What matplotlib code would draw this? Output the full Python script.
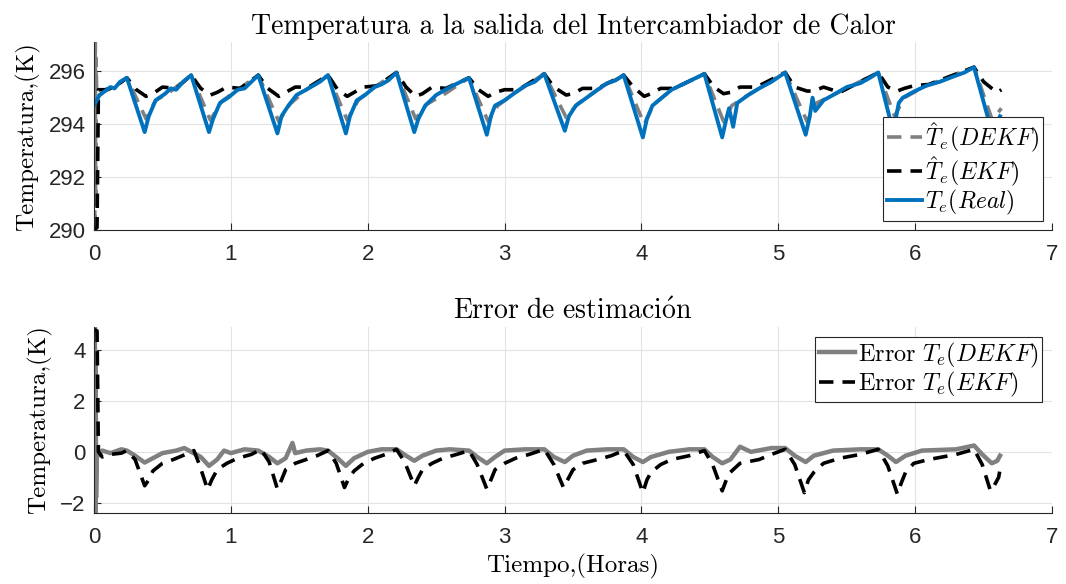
import numpy as np
import matplotlib
matplotlib.use("Agg")
import matplotlib.pyplot as plt

plt.rcParams['mathtext.fontset'] = 'cm'

# --- data (hours, kelvin) ---
real_t = [0.00, 0.04, 0.08, 0.12, 0.15, 0.19, 0.24,
          0.37, 0.40, 0.45, 0.52, 0.56, 0.60, 0.65, 0.71,
          0.84, 0.87, 0.92, 0.98, 1.05, 1.10, 1.15, 1.20,
          1.34, 1.37, 1.42, 1.48, 1.55, 1.60, 1.65, 1.71,
          1.84, 1.87, 1.92, 1.98, 2.05, 2.10, 2.15, 2.21,
          2.34, 2.37, 2.42, 2.50, 2.55, 2.62, 2.68, 2.74,
          2.87, 2.90, 2.93, 3.00, 3.08, 3.15, 3.22, 3.29,
          3.44, 3.47, 3.52, 3.60, 3.68, 3.75, 3.81, 3.87,
          4.01, 4.04, 4.08, 4.15, 4.22, 4.30, 4.38, 4.46,
          4.59, 4.62, 4.64, 4.67, 4.70, 4.78, 4.86, 4.95, 5.05,
          5.20, 5.23, 5.25, 5.27, 5.33, 5.40, 5.50, 5.60, 5.67, 5.73,
          5.84, 5.88, 5.91, 5.98, 6.08, 6.18, 6.28, 6.36, 6.43,
          6.55, 6.60, 6.62]
real_v = [294.70, 295.10, 295.25, 295.40, 295.35, 295.60, 295.75,
          293.70, 294.30, 294.90, 295.15, 295.35, 295.30, 295.60, 295.85,
          293.70, 294.20, 294.80, 295.00, 295.30, 295.35, 295.60, 295.85,
          293.65, 294.30, 294.70, 295.10, 295.30, 295.45, 295.60, 295.85,
          293.65, 294.30, 294.90, 295.10, 295.40, 295.50, 295.65, 295.95,
          293.70, 294.20, 294.70, 295.10, 295.25, 295.45, 295.60, 295.75,
          293.60, 294.30, 294.70, 294.90, 295.20, 295.45, 295.60, 295.90,
          293.75, 294.30, 294.70, 295.00, 295.30, 295.55, 295.65, 295.85,
          293.50, 294.20, 294.70, 295.00, 295.30, 295.50, 295.70, 295.90,
          293.50, 294.20, 294.60, 293.90, 294.80, 295.10, 295.35, 295.60, 295.95,
          293.60, 294.30, 295.00, 294.50, 294.90, 295.10, 295.40, 295.55, 295.75, 295.95,
          293.70, 294.80, 295.00, 295.20, 295.45, 295.60, 295.80, 295.95, 296.15,
          293.90, 294.10, 294.30]

dekf_t = [0.000, 0.003, 0.006, 0.009, 0.012, 0.015, 0.020, 0.08, 0.15, 0.24,
          0.38, 0.45, 0.55, 0.71,
          0.85, 0.93, 1.05, 1.20,
          1.35, 1.43, 1.55, 1.71,
          1.85, 1.93, 2.05, 2.21,
          2.35, 2.43, 2.55, 2.74,
          2.88, 2.95, 3.08, 3.29,
          3.45, 3.53, 3.68, 3.87,
          4.02, 4.09, 4.22, 4.46,
          4.60, 4.66, 4.78, 5.05,
          5.21, 5.28, 5.40, 5.73,
          5.85, 5.92, 6.08, 6.43,
          6.56, 6.60, 6.63]
dekf_v = [290.0, 299.0, 289.5, 298.5, 291.0, 296.5, 295.0, 295.25, 295.40, 295.75,
          294.20, 294.90, 295.20, 295.85,
          294.15, 294.85, 295.30, 295.85,
          294.10, 294.75, 295.30, 295.85,
          294.15, 294.90, 295.40, 295.95,
          294.20, 294.75, 295.10, 295.75,
          294.10, 294.70, 295.20, 295.90,
          294.25, 294.75, 295.30, 295.85,
          294.00, 294.75, 295.30, 295.90,
          294.10, 294.70, 295.10, 295.95,
          294.10, 294.80, 295.10, 295.95,
          294.30, 295.00, 295.45, 296.15,
          294.20, 294.40, 294.60]

ekf_t = [0.000, 0.022, 0.032, 0.08, 0.15, 0.24,
         0.31, 0.38, 0.43, 0.50, 0.60, 0.71,
         0.78, 0.85, 0.90, 0.97, 1.07, 1.20,
         1.27, 1.35, 1.40, 1.47, 1.57, 1.71,
         1.78, 1.85, 1.90, 1.97, 2.07, 2.21,
         2.28, 2.35, 2.40, 2.47, 2.57, 2.74,
         2.81, 2.88, 2.93, 3.00, 3.10, 3.29,
         3.36, 3.45, 3.50, 3.57, 3.68, 3.87,
         3.94, 4.02, 4.07, 4.14, 4.24, 4.46,
         4.53, 4.60, 4.65, 4.72, 4.84, 5.05,
         5.12, 5.21, 5.26, 5.33, 5.45, 5.73,
         5.80, 5.87, 5.92, 5.99, 6.10, 6.43,
         6.50, 6.56, 6.60, 6.63]
ekf_v = [290.0, 290.1, 295.3, 295.30, 295.40, 295.75,
         295.30, 295.05, 295.15, 295.40, 295.35, 295.85,
         295.35, 295.10, 295.20, 295.40, 295.35, 295.85,
         295.35, 295.05, 295.20, 295.40, 295.40, 295.85,
         295.30, 295.05, 295.20, 295.40, 295.45, 295.95,
         295.40, 295.05, 295.15, 295.40, 295.35, 295.75,
         295.30, 295.05, 295.20, 295.30, 295.30, 295.90,
         295.40, 295.10, 295.15, 295.35, 295.35, 295.85,
         295.40, 295.05, 295.15, 295.35, 295.35, 295.90,
         295.40, 295.15, 295.20, 295.40, 295.40, 295.95,
         295.40, 295.25, 295.25, 295.40, 295.20, 295.95,
         295.40, 295.25, 295.35, 295.45, 295.50, 296.15,
         295.60, 295.35, 295.20, 295.30]

# error = real - estimate
err_ekf_t = [0.000, 0.022, 0.032, 0.06, 0.12, 0.20, 0.24,
             0.30, 0.37, 0.40, 0.43, 0.50, 0.58, 0.66, 0.73,
             0.77, 0.83, 0.86, 0.90, 0.97, 1.05, 1.15, 1.22,
             1.28, 1.34, 1.37, 1.40, 1.47, 1.55, 1.63, 1.71,
             1.77, 1.83, 1.86, 1.90, 1.97, 2.05, 2.13, 2.21,
             2.27, 2.34, 2.37, 2.40, 2.47, 2.55, 2.65, 2.74,
             2.80, 2.87, 2.90, 2.93, 3.00, 3.08, 3.18, 3.29,
             3.36, 3.43, 3.46, 3.50, 3.57, 3.68, 3.78, 3.87,
             3.94, 4.01, 4.04, 4.07, 4.14, 4.22, 4.35, 4.46,
             4.52, 4.59, 4.62, 4.65, 4.72, 4.86, 4.95, 5.05,
             5.12, 5.19, 5.22, 5.26, 5.33, 5.45, 5.60, 5.73,
             5.80, 5.87, 5.90, 5.93, 5.99, 6.10, 6.30, 6.43,
             6.49, 6.55, 6.58, 6.61, 6.62]
err_ekf_v = [4.80, 4.75, 0.00, -0.20, -0.10, -0.05, 0.05,
             -0.30, -1.33, -1.10, -0.75, -0.45, -0.30, -0.12, 0.05,
             -0.50, -1.48, -1.10, -0.70, -0.45, -0.25, -0.10, 0.10,
             -0.40, -1.46, -1.10, -0.70, -0.45, -0.30, -0.15, 0.05,
             -0.45, -1.40, -1.05, -0.75, -0.45, -0.25, -0.10, 0.10,
             -0.40, -1.33, -1.00, -0.70, -0.45, -0.25, -0.10, 0.05,
             -0.50, -1.46, -1.10, -0.70, -0.45, -0.25, -0.10, 0.10,
             -0.50, -1.40, -1.10, -0.70, -0.45, -0.30, -0.15, 0.05,
             -0.50, -1.60, -1.10, -0.80, -0.50, -0.30, -0.15, 0.05,
             -0.50, -1.53, -1.10, -0.80, -0.45, -0.30, -0.10, 0.10,
             -0.50, -1.60, -1.10, -0.80, -0.45, -0.25, -0.10, 0.10,
             -0.55, -1.66, -1.20, -0.80, -0.45, -0.30, -0.10, 0.10,
             -0.50, -1.53, -1.30, -1.00, -0.70]

err_dekf_t = [0.000, 0.003, 0.006, 0.009, 0.012, 0.015, 0.020, 0.06, 0.12, 0.20, 0.24,
              0.30, 0.37, 0.43, 0.50, 0.60, 0.66, 0.71,
              0.78, 0.84, 0.90, 0.95, 1.00, 1.10, 1.20,
              1.28, 1.34, 1.40, 1.45, 1.47, 1.55, 1.65, 1.71,
              1.78, 1.84, 1.90, 2.00, 2.10, 2.21,
              2.28, 2.34, 2.40, 2.50, 2.60, 2.74,
              2.80, 2.87, 2.93, 3.00, 3.15, 3.29,
              3.36, 3.44, 3.50, 3.60, 3.75, 3.87,
              3.94, 4.01, 4.07, 4.20, 4.35, 4.46,
              4.52, 4.59, 4.65, 4.72, 4.80, 4.95, 5.05,
              5.12, 5.20, 5.26, 5.40, 5.60, 5.73,
              5.80, 5.86, 5.93, 6.05, 6.30, 6.43,
              6.49, 6.56, 6.60, 6.62]
err_dekf_v = [4.70, -4.30, 5.20, -3.80, 3.70, -1.80, -0.20, 0.05, -0.05, 0.10, 0.05,
              -0.15, -0.42, -0.25, -0.05, 0.05, 0.15, 0.00,
              -0.20, -0.55, -0.30, 0.05, -0.05, 0.10, 0.05,
              -0.20, -0.45, -0.25, 0.35, -0.05, 0.05, 0.10, 0.05,
              -0.25, -0.55, -0.25, 0.00, 0.10, 0.10,
              -0.15, -0.35, -0.15, 0.05, 0.10, 0.05,
              -0.20, -0.45, -0.20, 0.05, 0.10, 0.10,
              -0.20, -0.40, -0.15, 0.05, 0.10, 0.10,
              -0.20, -0.40, -0.20, 0.00, 0.10, 0.10,
              -0.20, -0.45, -0.30, 0.20, 0.00, 0.15, 0.15,
              -0.15, -0.40, -0.15, 0.05, 0.10, 0.10,
              -0.15, -0.40, -0.15, 0.05, 0.10, 0.25,
              -0.10, -0.45, -0.35, -0.15]

blue = '#0072BD'
gray = '#808080'
serif = ['cmr10', 'DejaVu Serif']

fig = plt.figure(figsize=(10.66, 5.84), dpi=100)
ax1 = fig.add_axes([0.0882, 0.606, 0.8987, 0.322])
ax2 = fig.add_axes([0.0882, 0.1216, 0.8987, 0.3184])

ax1.plot(dekf_t, dekf_v, '--', color=gray, lw=2.6, dashes=(4, 2.5), label=r'$\hat{T}_e(DEKF)$')
ax1.plot(ekf_t, ekf_v, '--', color='black', lw=2.6, dashes=(4, 2.5), label=r'$\hat{T}_e(EKF)$')
ax1.plot(real_t, real_v, '-', color=blue, lw=2.8, label=r'$T_e(Real)$')
ax1.set_ylim(290, 297.1)
ax1.set_yticks([290, 292, 294, 296])
ax1.set_title('Temperatura a la salida del Intercambiador de Calor',
              family=serif, fontsize=20, pad=6)
ax1.set_ylabel('Temperatura,(K)', family=serif, fontsize=18, labelpad=6)
leg1 = ax1.legend(loc='lower right', fontsize=17, handlelength=1.5, handletextpad=0.1,
                  borderpad=0.15, labelspacing=0.0, fancybox=False, framealpha=1,
                  borderaxespad=0.4)

ax2.plot(err_dekf_t, err_dekf_v, '-', color=gray, lw=3.2, label=r'$\mathrm{Error}\ T_e(DEKF)$')
ax2.plot(err_ekf_t, err_ekf_v, '--', color='black', lw=2.6, dashes=(4, 2.5),
         label=r'$\mathrm{Error}\ T_e(EKF)$')
ax2.set_ylim(-2.4, 4.9)
ax2.set_yticks([-2, 0, 2, 4])
ax2.set_title(r'$\mathrm{Error\ de\ estimaci\acute{o}n}$', fontsize=20, pad=6)
ax2.set_ylabel('Temperatura,(K)', family=serif, fontsize=18, labelpad=6)
ax2.set_xlabel('Tiempo,(Horas)', family=serif, fontsize=18, labelpad=4)
leg2 = ax2.legend(loc='upper right', fontsize=17.5, handlelength=1.5, handletextpad=0.1,
                  borderpad=0.15, labelspacing=0.0, fancybox=False, framealpha=1,
                  borderaxespad=0.4)

for ax, leg in ((ax1, leg1), (ax2, leg2)):
    ax.set_xlim(0, 7)
    ax.set_xticks(range(8))
    ax.grid(True, color='#e3e3e3', lw=0.8)
    ax.set_axisbelow(True)
    for s in ('top', 'right'):
        ax.spines[s].set_visible(False)
    for s in ('left', 'bottom'):
        ax.spines[s].set_color('#262626')
        ax.spines[s].set_linewidth(0.8)
    ax.tick_params(direction='in', length=5, color='#262626', labelsize=16,
                   labelcolor='#262626', pad=6)
    ax.tick_params(axis='x', pad=10)
    for lab in ax.get_xticklabels() + ax.get_yticklabels():
        lab.set_family('Liberation Sans')
    leg.get_frame().set_edgecolor('#262626')
    leg.get_frame().set_linewidth(0.8)

fig.savefig('out.png', dpi=100)
